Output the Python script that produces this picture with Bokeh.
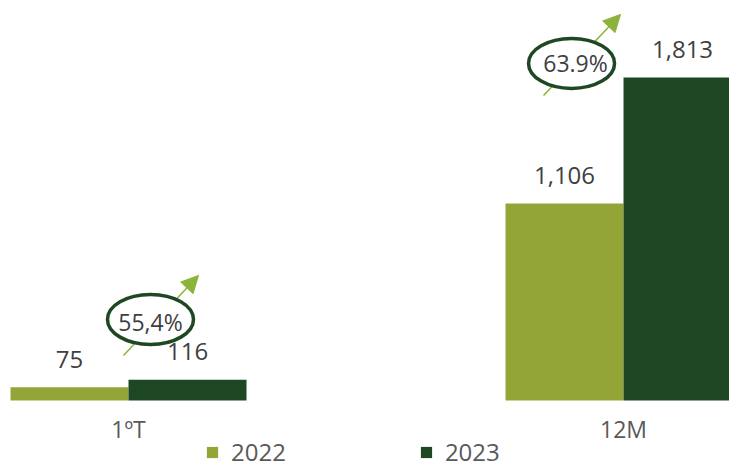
from bokeh.plotting import figure
from bokeh.models import Range1d, Legend, LegendItem, Arrow, NormalHead
from bokeh.embed import file_html
from bokeh.resources import INLINE
from bokeh.core.properties import value

# ---- data ----
categories = ["1ºT", "12M"]
series_names = ["2022", "2023"]
values_2022 = [75, 1106]
values_2023 = [116, 1813]
labels_2022 = ["75", "1,106"]
labels_2023 = ["116", "1,813"]
growth_labels = ["55,4%", "63.9%"]

# ---- annotation placement (data coords) ----
ellipse_x = [0.0444, 0.8950]
ellipse_y = [455, 1892]
growth_text_x = [0.0444, 0.9030]
growth_text_y = [438, 1897]
arrow_start = [(-0.0101, 253), (0.8384, 1712)]
arrow_end = [(0.1414, 702), (0.9940, 2167)]

# ---- styles ----
C22 = "#93a537"
C23 = "#1e4723"
ARROW_C = "#8db43a"
VAL_C = "#404040"
CAT_C = "#595959"
FONT_NAME = "Open Sans"
FONT = value(FONT_NAME)
BAR_W = 0.2384

idx = list(range(len(categories)))
x22 = [i - BAR_W / 2 for i in idx]
x23 = [i + BAR_W / 2 for i in idx]

p = figure(width=729, height=468,
           x_range=Range1d(-0.2586, 1.2141),
           y_range=Range1d(-381.7, 2245.2),
           output_backend="svg", toolbar_location=None,
           x_axis_location=None, y_axis_location=None,
           min_border=0)
p.outline_line_color = None
p.grid.visible = False
p.background_fill_color = "white"

# arrows (behind everything)
for (xs, ys), (xe, ye) in zip(arrow_start, arrow_end):
    p.add_layout(Arrow(end=NormalHead(size=17, fill_color=ARROW_C, line_color=ARROW_C),
                       x_start=xs, y_start=ys, x_end=xe, y_end=ye,
                       line_color=ARROW_C, line_width=1.6, level="underlay"))

r22 = p.vbar(x=x22, top=values_2022, bottom=0, width=BAR_W, fill_color=C22, line_color=None)
r23 = p.vbar(x=x23, top=values_2023, bottom=0, width=BAR_W, fill_color=C23, line_color=None)

# growth ellipses
p.ellipse(x=ellipse_x, y=ellipse_y, width=86, height=50,
          width_units="screen", height_units="screen",
          fill_color="white", line_color=C23, line_width=3.5)
p.text(x=growth_text_x, y=growth_text_y, text=growth_labels,
       text_align="center", text_baseline="middle",
       text_font=FONT, text_font_size="23px", text_color=VAL_C)

# value labels
p.text(x=x22, y=values_2022, text=labels_2022, text_align="center",
       text_baseline="alphabetic", y_offset=-28,
       text_font=FONT, text_font_size="24px", text_color=VAL_C)
p.text(x=x23, y=values_2023, text=labels_2023, text_align="center",
       text_baseline="alphabetic", y_offset=-28,
       text_font=FONT, text_font_size="24px", text_color=VAL_C)

# category labels
p.text(x=idx, y=[0] * len(idx), text=categories, text_align="center",
       text_baseline="alphabetic", y_offset=29,
       text_font=FONT, text_font_size="23px", text_color=CAT_C)

legend = Legend(items=[LegendItem(label=series_names[0], renderers=[r22]),
                       LegendItem(label=series_names[1], renderers=[r23])],
                orientation="horizontal", location=(205, 0),
                spacing=133, glyph_width=14, glyph_height=14, label_standoff=12,
                label_text_font=FONT_NAME, label_text_font_size="24px",
                label_text_color=CAT_C, border_line_color=None,
                background_fill_alpha=0, padding=0, margin=0)
p.add_layout(legend, "center")

open("out.html", "w").write(file_html(p, INLINE))
